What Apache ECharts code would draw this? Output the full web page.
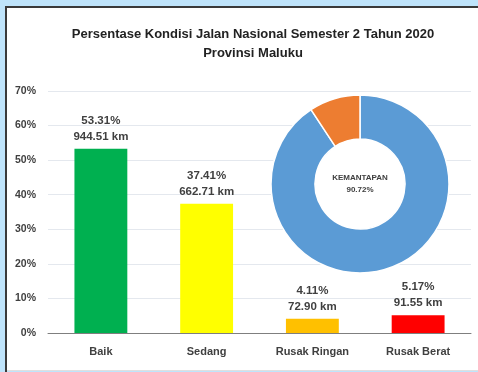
<!DOCTYPE html>
<html>
<head>
<meta charset="utf-8">
<script src="https://cdn.jsdelivr.net/npm/echarts@6/dist/echarts.min.js"></script>
<style>
  html, body { margin: 0; padding: 0; width: 478px; height: 372px; overflow: hidden; }
  #chart { position: absolute; left: 0; top: 0; width: 478px; height: 372px; }
</style>
</head>
<body>
<div id="chart"></div>
<script>
// Road condition categories and their share of the national road length
const categories = ['Baik', 'Sedang', 'Rusak Ringan', 'Rusak Berat'];
const percentValues = [53.31, 37.41, 4.11, 5.17];
const lengthKm = ['944.51', '662.71', '72.90', '91.55'];
const barColors = ['#00b050', '#ffff00', '#ffc000', '#ff0000'];

// Stability (kemantapan) split for the donut
const stabilityNames = ['Mantap', 'Tidak Mantap'];
const stabilityValues = [90.72, 9.28];
const stabilityColors = ['#5b9bd5', '#ed7d31'];

const yTicks = [0, 10, 20, 30, 40, 50, 60, 70];

const fontFamily = 'Liberation Sans, Arial, sans-serif';
const textColor = '#404040';

const chart = echarts.init(document.getElementById('chart'), null, { renderer: 'canvas' });

chart.setOption({
  backgroundColor: '#bfe4fb',
  animation: false,
  graphic: [
    // white card with a dark edge on its left and top
    { type: 'rect', z: -10, silent: true, shape: { x: 6, y: 7, width: 480, height: 363 },
      style: { fill: '#ffffff' } },
    { type: 'line', z: -9, silent: true, shape: { x1: 6, y1: 7, x2: 478, y2: 7 },
      style: { stroke: '#3a3a3a', lineWidth: 2 } },
    { type: 'line', z: -9, silent: true, shape: { x1: 6, y1: 6, x2: 6, y2: 372 },
      style: { stroke: '#3a3a3a', lineWidth: 2 } },
    { type: 'line', z: -9, silent: true, shape: { x1: 7, y1: 370.5, x2: 478, y2: 370.5 },
      style: { stroke: '#e0e0e0', lineWidth: 1 } }
  ],
  title: {
    text: 'Persentase Kondisi Jalan Nasional Semester 2 Tahun 2020\nProvinsi Maluku',
    left: 248,
    textAlign: 'center',
    top: 20,
    textStyle: { fontFamily, fontSize: 13, fontWeight: 'bold', color: '#222', lineHeight: 19 }
  },
  grid: { left: 48, right: 7, top: 91, bottom: 39 },
  xAxis: {
    type: 'category',
    data: categories,
    axisLine: { lineStyle: { color: '#7f7f7f', width: 1 } },
    axisTick: { show: false },
    axisLabel: { fontFamily, fontSize: 11, fontWeight: 'bold', color: textColor, margin: 13 }
  },
  yAxis: {
    type: 'value',
    min: yTicks[0],
    max: yTicks[yTicks.length - 1],
    interval: 10,
    axisLine: { show: false },
    axisTick: { show: false },
    splitLine: { lineStyle: { color: '#e4e8ee', width: 1 } },
    axisLabel: { fontFamily, fontSize: 10.5, fontWeight: 'bold', color: textColor, margin: 12,
                 formatter: v => v + '%' }
  },
  series: [
    {
      type: 'bar',
      barWidth: '50%',
      data: percentValues.map((v, i) => ({ value: v, itemStyle: { color: barColors[i] } })),
      label: {
        show: true,
        position: 'top',
        distance: 4,
        fontFamily, fontSize: 11.5, fontWeight: 'bold', color: textColor, lineHeight: 16,
        formatter: p => p.value.toFixed(2) + '%\n' + lengthKm[p.dataIndex] + ' km'
      },
      z: 2
    },
    {
      // white disc behind the donut hole, carrying the centre caption
      type: 'pie',
      center: [360, 184],
      radius: [0, 89],
      silent: true,
      label: {
        show: true,
        position: 'center',
        fontFamily, fontSize: 8, fontWeight: 'bold', color: '#404040', lineHeight: 12,
        formatter: () => 'KEMANTAPAN\n' + stabilityValues[0].toFixed(2) + '%'
      },
      labelLine: { show: false },
      data: [{ value: 1, itemStyle: { color: '#ffffff' } }],
      z: 3
    },
    {
      type: 'pie',
      center: [360, 184],
      radius: [45, 89],
      startAngle: 90,
      clockwise: true,
      silent: true,
      itemStyle: { borderColor: '#ffffff', borderWidth: 1.5 },
      label: { show: false },
      labelLine: { show: false },
      data: stabilityValues.map((v, i) => ({ name: stabilityNames[i], value: v,
        itemStyle: { color: stabilityColors[i] } })),
      z: 4
    }
  ]
});
</script>
</body>
</html>
